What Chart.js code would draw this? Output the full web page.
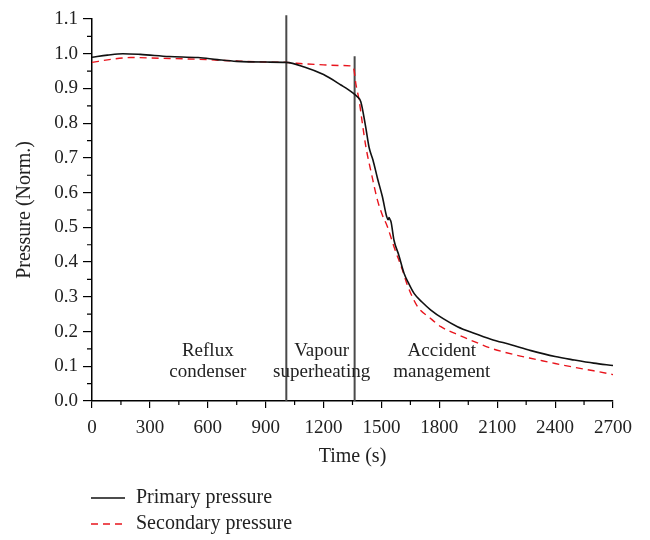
<!DOCTYPE html>
<html>
<head>
<meta charset="utf-8">
<script src="https://cdn.jsdelivr.net/npm/chart.js@4"></script>
<style>
    body { margin: 0; background: #fff; }
    #wrap { width: 650px; height: 540px; }
</style>
</head>
<body>
<div id="wrap"><canvas id="myChart" width="650" height="540"></canvas></div>
<script>
// primary side pressure (black line)
const primaryTime = [0, 80, 160, 250, 400, 550, 650, 750, 900, 1005, 1100, 1200, 1290, 1350, 1375, 1393, 1418, 1436, 1456, 1480, 1505, 1527, 1535, 1539, 1545, 1550, 1565, 1590, 1617, 1640, 1669, 1710, 1756, 1820, 1894, 1980, 2067, 2171, 2275, 2400, 2500, 2600, 2700];
const primaryValue = [0.990, 0.996, 1.000, 0.998, 0.992, 0.989, 0.983, 0.978, 0.976, 0.975, 0.962, 0.940, 0.910, 0.888, 0.876, 0.862, 0.790, 0.730, 0.694, 0.640, 0.588, 0.531, 0.522, 0.528, 0.522, 0.515, 0.463, 0.420, 0.368, 0.340, 0.310, 0.285, 0.262, 0.237, 0.214, 0.195, 0.178, 0.162, 0.145, 0.128, 0.118, 0.109, 0.102];

// secondary side pressure (red dashed)
const secondaryTime = [0, 100, 200, 350, 550, 750, 900, 1005, 1100, 1200, 1300, 1349, 1358, 1367, 1384, 1401, 1420, 1450, 1479, 1505, 1531, 1565, 1609, 1635, 1687, 1750, 1808, 1900, 1981, 2067, 2200, 2300, 2400, 2500, 2600, 2700];
const secondaryValue = [0.975, 0.984, 0.989, 0.987, 0.984, 0.979, 0.976, 0.975, 0.971, 0.968, 0.966, 0.964, 0.953, 0.915, 0.867, 0.800, 0.730, 0.650, 0.579, 0.535, 0.502, 0.444, 0.377, 0.333, 0.272, 0.240, 0.214, 0.190, 0.171, 0.152, 0.132, 0.120, 0.108, 0.097, 0.087, 0.076];

// phase boundaries
const phaseTime = [1007, 1361];
const phaseTop = [1.111, 0.993];

const phaseLabels = [
    { t: 600, lines: ['Reflux', 'condenser'] },
    { t: 1190, lines: ['Vapour', 'superheating'] },
    { t: 1813, lines: ['Accident', 'management'] }
];
const labelRows = [0.145, 0.084];

const legendItems = ['Primary pressure', 'Secondary pressure'];

const FONT = "'Liberation Serif', 'Times New Roman', serif";

const toPoints = (xs, ys) => xs.map((x, i) => ({ x: x, y: ys[i] }));

const extras = {
    id: 'extras',
    afterDraw(chart) {
        const ctx = chart.ctx;
        const xs = chart.scales.x;
        const ys = chart.scales.y;
        const area = chart.chartArea;

        // minor ticks
        ctx.save();
        ctx.strokeStyle = '#000';
        ctx.lineWidth = 1.2;
        ctx.beginPath();
        for (let t = 150; t < 2700; t += 300) {
            const px = xs.getPixelForValue(t);
            ctx.moveTo(px, area.bottom);
            ctx.lineTo(px, area.bottom + 4);
        }
        for (let v = 0.05; v < 1.1; v += 0.1) {
            const py = ys.getPixelForValue(v);
            ctx.moveTo(area.left, py);
            ctx.lineTo(area.left - 5, py);
        }
        ctx.stroke();

        // phase labels
        ctx.fillStyle = '#222';
        ctx.font = '19px ' + FONT;
        ctx.textAlign = 'center';
        ctx.textBaseline = 'middle';
        phaseLabels.forEach(p => {
            p.lines.forEach((txt, i) => {
                ctx.fillText(txt, xs.getPixelForValue(p.t), ys.getPixelForValue(labelRows[i]));
            });
        });

        // legend
        ctx.font = '20px ' + FONT;
        ctx.textAlign = 'left';
        const rows = [498, 524];
        ctx.lineWidth = 1.5;
        ctx.strokeStyle = '#111';
        ctx.beginPath();
        ctx.moveTo(91, rows[0]);
        ctx.lineTo(125, rows[0]);
        ctx.stroke();
        ctx.strokeStyle = '#e8141c';
        ctx.setLineDash([7, 5]);
        ctx.beginPath();
        ctx.moveTo(91, rows[1]);
        ctx.lineTo(125, rows[1]);
        ctx.stroke();
        ctx.setLineDash([]);
        ctx.fillStyle = '#222';
        legendItems.forEach((txt, i) => ctx.fillText(txt, 136, rows[i]));
        ctx.restore();
    }
};

const ctx = document.getElementById('myChart').getContext('2d');

const datasets = [{
    data: toPoints(primaryTime, primaryValue),
    borderColor: '#111',
    borderWidth: 1.6,
    pointRadius: 0,
    cubicInterpolationMode: 'monotone',
    fill: false
}, {
    data: toPoints(secondaryTime, secondaryValue),
    borderColor: '#e8141c',
    borderWidth: 1.4,
    borderDash: [7, 5],
    pointRadius: 0,
    cubicInterpolationMode: 'monotone',
    fill: false
}];

phaseTime.forEach((t, i) => {
    datasets.push({
        data: [{ x: t, y: 0 }, { x: t, y: phaseTop[i] }],
        borderColor: '#4a4a4a',
        borderWidth: 2,
        pointRadius: 0,
        clip: false
    });
});

let myChart = new Chart(ctx, {
    type: 'line',
    data: { datasets: datasets },
    options: {
        responsive: false,
        animation: false,
        layout: { padding: { left: 0, right: 37, top: 19, bottom: 0 } },
        plugins: {
            legend: { display: false },
            tooltip: { enabled: false }
        },
        scales: {
            x: {
                type: 'linear',
                min: 0,
                max: 2700,
                afterFit: scale => { scale.height = 139; },
                border: { color: '#000', width: 1.5 },
                grid: { drawOnChartArea: false, tickLength: 7, color: '#000', lineWidth: 1.2 },
                ticks: {
                    stepSize: 300,
                    color: '#222',
                    padding: 9,
                    maxRotation: 0,
                    font: { family: FONT, size: 19 },
                    callback: v => String(v)
                },
                title: {
                    display: true,
                    text: 'Time (s)',
                    color: '#222',
                    font: { family: FONT, size: 20 },
                    padding: { bottom: 71 }
                }
            },
            y: {
                min: 0,
                max: 1.1,
                afterFit: scale => { scale.width = 92; },
                border: { color: '#000', width: 1.5 },
                grid: { drawOnChartArea: false, tickLength: 9, color: '#000', lineWidth: 1.2 },
                ticks: {
                    stepSize: 0.1,
                    color: '#222',
                    padding: 5,
                    font: { family: FONT, size: 19 },
                    callback: v => v.toFixed(1)
                },
                title: {
                    display: true,
                    text: 'Pressure (Norm.)',
                    color: '#222',
                    font: { family: FONT, size: 20 },
                    padding: { top: 13 }
                }
            }
        }
    },
    plugins: [extras]
});
</script>
</body>
</html>
